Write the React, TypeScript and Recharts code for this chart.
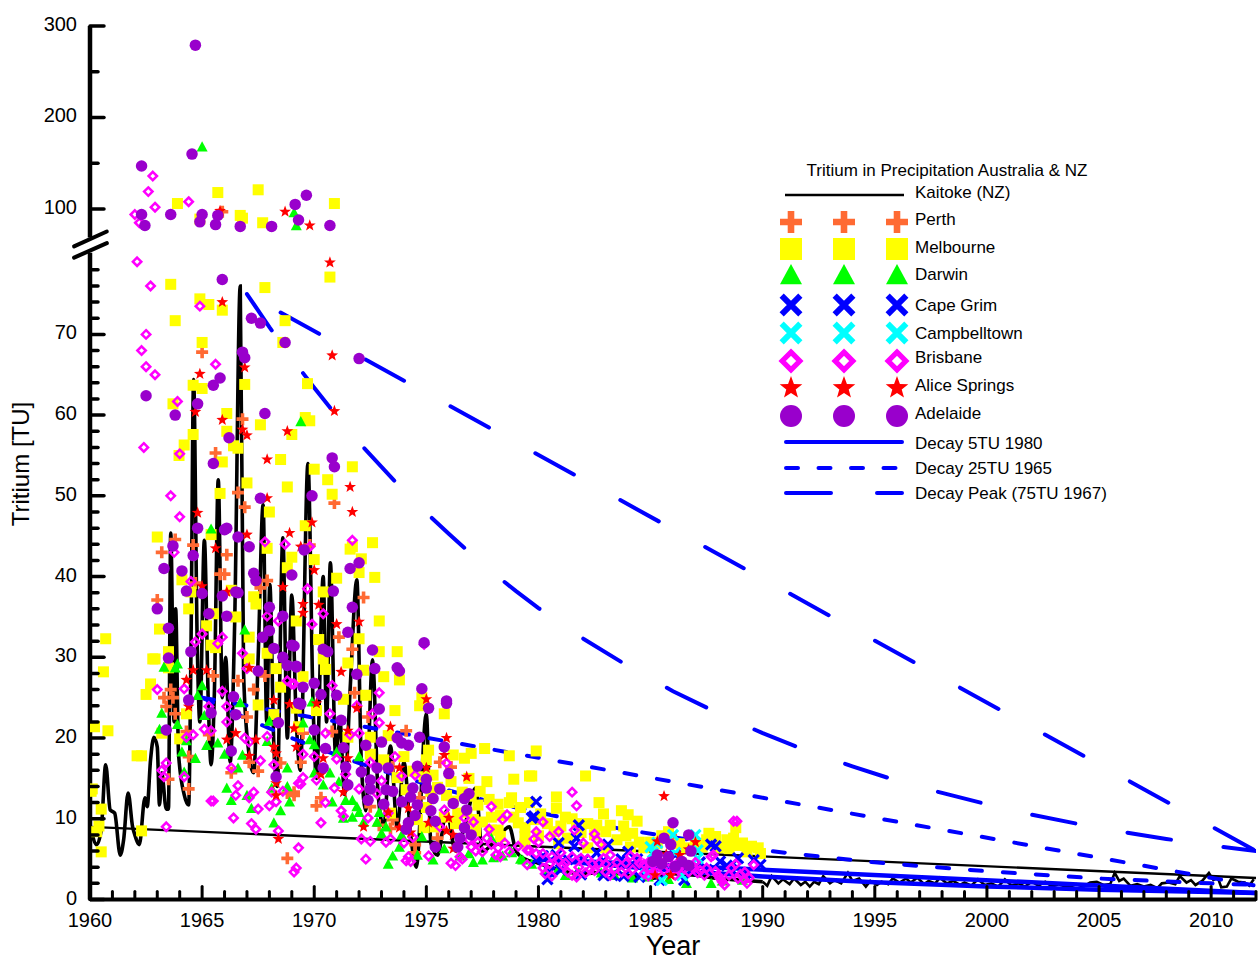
import React from "react";
import { ComposedChart, Line, Scatter, XAxis, YAxis, ReferenceLine, Legend, Label } from "recharts";

const FONT = "'Liberation Sans', Arial, sans-serif";

type Pt = [number, number];

// [year, TU]
const kaitokeEarly: Pt[] = [
  [1960.05, 8.6], [1960.3, 6.8], [1960.5, 8.6], [1960.7, 16.7], [1960.9, 11.1], [1961.1, 10.7], [1961.35, 5.5], [1961.5, 7.4], [1961.7, 13.2],
  [1961.9, 9], [1962, 8], [1962.2, 6.8], [1962.45, 12.6], [1962.55, 11.5], [1962.7, 17.3], [1962.85, 20.1], [1963, 18.9], [1963.1, 11.7],
  [1963.2, 15.7], [1963.4, 11.2], [1963.5, 11.2], [1963.6, 45.4], [1963.75, 22], [1963.82, 36], [1963.95, 18], [1964.2, 13], [1964.4, 11.7],
  [1964.5, 30], [1964.62, 64.4], [1964.78, 32], [1964.9, 22], [1965.1, 44.5], [1965.28, 24], [1965.4, 16.7], [1965.55, 26], [1965.72, 52],
  [1965.9, 25], [1966.05, 30], [1966.25, 17], [1966.45, 34], [1966.7, 76], [1966.85, 28], [1967.05, 19], [1967.3, 15.7], [1967.5, 30],
  [1967.72, 48.9], [1967.88, 22], [1968.02, 39], [1968.2, 19], [1968.35, 14], [1968.6, 44.8], [1968.8, 20], [1969, 37.7], [1969.2, 22],
  [1969.38, 16], [1969.72, 54], [1969.95, 24], [1970.1, 15], [1970.4, 40], [1970.55, 22], [1970.72, 41.7], [1970.95, 18], [1971.15, 22],
  [1971.35, 13], [1971.6, 26], [1971.9, 39.6], [1972.1, 17], [1972.3, 11], [1972.6, 29.7], [1972.85, 13], [1973.1, 9], [1973.4, 19],
  [1973.7, 9], [1974, 17], [1974.3, 8], [1974.55, 4], [1975, 23], [1975.2, 7], [1975.5, 5.5], [1975.9, 11], [1976.3, 6], [1976.7, 9],
  [1977.2, 13.8], [1977.5, 6], [1978, 7], [1978.7, 9], [1979, 6], [1979.4, 5], [1980, 4.5], [1981, 3.6], [1982, 3.2], [1983, 3.4],
  [1984, 3], [1985, 2.6], [1986, 3.2], [1987, 3], [1988, 2.6], [1989, 2.4], [1990, 2.2],
];
const kaitokeLate: Pt[] = [
  [1990, 2.2], [1990.2, 1.7], [1990.4, 2.9], [1990.7, 2], [1990.9, 2.5], [1991.2, 1.9], [1991.4, 2.6], [1991.7, 1.8], [1991.9, 2.2], [1992.1, 1.6],
  [1992.3, 2.2], [1992.5, 1.9], [1992.7, 2.9], [1993, 2], [1993.2, 2.4], [1993.5, 2], [1993.8, 3.3], [1994, 2.3], [1994.3, 2.6], [1994.6, 1.6], [1994.8, 2.3],
  [1995.1, 1.8], [1995.3, 2.2], [1995.6, 1.9], [1995.8, 2.6], [1996.1, 2.1], [1996.4, 2.6], [1996.6, 2.1], [1996.9, 2.7], [1997.2, 1.9], [1997.4, 2.3],
  [1997.7, 2], [1997.9, 2.7], [1998.2, 2], [1998.5, 2.3], [1998.8, 1.8], [1999, 2.1], [1999.3, 1.7], [1999.6, 2.5], [1999.9, 1.8], [2000.2, 2],
  [2000.5, 1.6], [2000.8, 2.5], [2001.1, 1.7], [2001.4, 2], [2001.7, 1.6], [2002, 2.2], [2002.3, 1.7], [2002.6, 2.2], [2002.9, 1.6], [2003.2, 1.9],
  [2003.6, 1.5], [2004, 1.9], [2004.3, 1.6], [2004.6, 2.1], [2004.9, 2.2], [2005.2, 1.8], [2005.5, 1.9], [2005.7, 3.3], [2005.9, 2.3], [2006.1, 2.6],
  [2006.4, 1.7], [2006.7, 1.9], [2007, 1.6], [2007.3, 1.8], [2007.6, 1.4], [2007.8, 2], [2008.1, 2.1], [2008.4, 1.9], [2008.6, 2.9], [2008.9, 2.1],
  [2009.1, 2.4], [2009.3, 1.8], [2009.6, 2.3], [2009.9, 3.3], [2010.1, 2.4], [2010.3, 2.7], [2010.45, 1.5], [2010.7, 1.6], [2010.9, 2.6], [2011.2, 2.2],
  [2011.5, 2.1], [2011.7, 1.7], [2011.9, 2.5],
];
const kaitokeTrend: Pt[] = [[1960, 9], [2012, 2.66]];

const perth: Pt[] = [
  [1965.9, 97], [1965, 67.8], [1965.6, 55.3], [1963.8, 44.6], [1963.2, 43], [1964.6, 43.9], [1966.1, 42.7], [1965.8, 40.3], [1966, 40.3],
  [1966.6, 50.4], [1963, 37.1], [1964.7, 39.2], [1966.8, 59.5], [1966.9, 48.6], [1970.9, 49.1], [1967.9, 39.5], [1967.6, 38.6], [1969.8, 43.9],
  [1972.2, 37.4], [1963.6, 26], [1963.3, 25], [1963.7, 25], [1963.4, 23.9], [1963.8, 23], [1964.3, 20.8], [1964.4, 17.7], [1963.5, 14.9],
  [1964.4, 13.7], [1965.5, 27.7], [1966.6, 27.1], [1967.3, 26], [1967.8, 27.7], [1967, 22.6], [1965.3, 20.4], [1966.3, 15.7], [1967.5, 15.9],
  [1967.1, 17], [1968.5, 16.9], [1968.8, 13.2], [1969.1, 13.3], [1968.8, 5.1], [1971.1, 32.5], [1971.7, 31], [1971.8, 25.6], [1972.4, 22.6],
  [1970.8, 20.8], [1974.1, 20.9], [1969.5, 20.6], [1975.6, 17], [1976.1, 16.4], [1970.3, 12.6], [1970.1, 11.6], [1972.5, 11.5], [1973.5, 9.9],
  [1974.7, 12.6], [1975.5, 7.6], [1974.5, 6.8], [1974.5, 5.8], [1969.1, 12.9], [1969.4, 17], [1973.5, 16.4], [1986.1, 7.4], [1972.9, 9.2], [1973.4, 8.8],
];

const melbourne: Pt[] = [
  [1963.9, 106], [1965.7, 118], [1967.5, 121], [1966.7, 93], [1966.8, 90], [1967.7, 85], [1970.9, 106], [1964.9, 89], [1963.6, 76.2], [1964.9, 74.4],
  [1965.3, 73.7], [1965.9, 73], [1967.8, 75.8], [1970.7, 77.1], [1963.8, 71.7], [1965, 69], [1964.6, 63.7], [1965, 63.3], [1963.7, 61.4], [1966.1, 60.2],
  [1966.1, 58], [1964.6, 57.6], [1964.2, 56.3], [1966.4, 56.2], [1963.97, 55], [1965.9, 54.2], [1965.8, 50.3], [1963, 44.9], [1965.4, 45.2], [1964.1, 39.6],
  [1964.5, 38.1], [1966.3, 38.3], [1968.7, 71.7], [1968.6, 69], [1969.7, 63.9], [1969.6, 59.7], [1969.8, 59.3], [1969, 57.6], [1967.6, 58.8], [1966.9, 63.8],
  [1966.6, 55.9], [1967, 51.6], [1968.5, 54.5], [1970, 53.3], [1971.7, 53.6], [1970.6, 52], [1968.8, 51.1], [1970.8, 50.2], [1968, 48], [1967.9, 43.5],
  [1969.6, 46.3], [1971.7, 43.7], [1971.6, 43.4], [1972.6, 44.2], [1972.1, 42.2], [1970, 42.1], [1969, 42.4], [1968.8, 41.1], [1972, 40.5], [1972.7, 39.9],
  [1971, 39.8], [1970.4, 38.1], [1967.3, 37.5], [1960.7, 32.3], [1960.6, 28.2], [1960.2, 21.4], [1960.8, 20.9], [1962.9, 29.8], [1962.8, 29.8], [1962.7, 26.7],
  [1962.5, 25.4], [1962.1, 17.8], [1962.3, 17.8], [1960.1, 13.7], [1960.05, 13.4], [1960.5, 11.2], [1960.4, 9.1], [1960.3, 8.4], [1960.5, 5.9], [1962.3, 8.5], [1963.1, 33.5], [1963.5, 30.7],
  [1963.5, 28.7], [1963.2, 20.6], [1964.3, 23], [1964, 19.9], [1964.4, 36], [1965.2, 33.9], [1965.4, 31.5], [1965.6, 31.2], [1965.5, 35.4], [1966.5, 35],
  [1967.4, 36.6], [1967.1, 32.5], [1967.1, 29.8], [1967.9, 30.5], [1968.3, 28.6], [1968.5, 26.3], [1969.2, 34.5], [1967.5, 24.1], [1968.2, 22.9], [1969.2, 23.7],
  [1969.3, 21.4], [1972.9, 34.5], [1973.7, 30.7], [1972.9, 30.7], [1971.5, 29.3], [1972.2, 28.4], [1973.1, 27.6], [1973.8, 27.2], [1972, 32.3], [1970.2, 32.2],
  [1970.4, 29.8], [1970.5, 28.5], [1969.5, 27.6], [1971.3, 24.8], [1972.3, 25.3], [1970.1, 23.4], [1973.6, 23.4], [1974.8, 25], [1974.7, 24], [1975.8, 23],
  [1972.5, 20.1], [1971.5, 20.1], [1973.3, 20.3], [1972.5, 18], [1973.1, 17.3], [1975.1, 18.5], [1975, 17.3], [1976.2, 17.9], [1976.7, 17.5], [1977, 18.1],
  [1977.6, 18.7], [1978.7, 17.8], [1976.9, 15], [1977.7, 14.6], [1978.9, 14.9], [1979.6, 15.3], [1975.3, 15.4], [1974, 17.7], [1973.7, 15.1], [1974.1, 13.6],
  [1975.5, 13.9], [1976.1, 14.6], [1977.3, 11.7], [1977.1, 9.9], [1978.8, 12.6], [1978.7, 12], [1977.9, 10.2], [1977.5, 9.6], [1978.2, 8.6], [1979.4, 7.8],
  [1976.4, 10.7], [1974.6, 9.9], [1973.4, 10.7], [1975.4, 9], [1978.3, 7.8], [1977.9, 8.6], [1979.9, 18.4], [1979.7, 15.3], [1982.1, 15.3], [1980.8, 12.7],
  [1980.8, 11.3], [1982.7, 12], [1982.9, 10.6], [1983.7, 11], [1984, 10.5], [1984.4, 9.7], [1983.8, 9.1], [1979.6, 12], [1979.4, 8.9], [1981.5, 10],
  [1982.6, 9.2], [1983.5, 7.4], [1982.5, 8], [1984.5, 7.1], [1981.3, 7.6], [1987.6, 8.2], [1987.9, 7.8], [1988.8, 8.9], [1988.7, 7.6], [1989.1, 7],
  [1989.8, 6.4], [1988.3, 6.5], [1985.8, 8.4], [1984.1, 6.5], [1987.3, 6.5], [1988.4, 7.4],
];
// the packed yellow band, 1974 to 1990
const melbourneBand: Pt[] = [
  [1974.4, 15.9], [1974.9, 15.2], [1975.2, 13.4], [1975.9, 12.9], [1976.2, 12.2], [1976.6, 13.3], [1977, 12.8], [1977.4, 13.4], [1977.8, 12.4], [1978.2, 11.8],
  [1978.3, 10.4], [1978.9, 10.2], [1979.2, 11.4], [1979.1, 9.5], [1976.8, 10.8], [1976.3, 9.4], [1975.8, 10.2], [1975, 11.4], [1974.9, 8.9], [1977.2, 8.5],
  [1979.8, 9.9], [1980.1, 10.6], [1980.4, 9.4], [1980.7, 8.4], [1981, 9.1], [1981.2, 10.2], [1981.7, 9.4], [1981.9, 8.3], [1982.2, 9.4], [1983, 8.4], [1983.2, 9.2],
  [1983.9, 7.9], [1984.2, 8.2], [1984.7, 6.4], [1985, 7.1], [1985.3, 6.9], [1985.5, 7.9], [1986.3, 6.9], [1986.6, 6.4], [1987, 6.9], [1987.8, 6.9], [1988, 6.4],
  [1988.5, 6.3], [1988.9, 6.7], [1989.3, 5.9], [1989.5, 6.6], [1989.9, 5.7], [1987.5, 7.4], [1979.4, 6.9], [1980, 7.9], [1980.9, 6.9], [1982.2, 6.4], [1983, 6.4],
];

const darwin: Pt[] = [
  [1965, 168], [1969.1, 96], [1969.2, 82], [1965.4, 45.9], [1969.4, 59.2], [1966.9, 33.4], [1963.3, 28.8], [1963.9, 29.2], [1963.8, 28.7], [1965, 26.5],
  [1964.8, 25.3], [1963.2, 23.1], [1963.9, 21.7], [1965.1, 22.8], [1966.7, 24.4], [1963.1, 21.1], [1964.3, 19.7], [1964.1, 18.3], [1964.7, 17.5], [1965.2, 19.1],
  [1965.7, 19.4], [1966, 18], [1966.8, 17.9], [1966.6, 16.3], [1967.9, 19.6], [1968, 22.1], [1968.8, 16.3], [1964.2, 15.8], [1966.1, 13.8], [1966.3, 12.3],
  [1967, 12.9], [1967.2, 11.3], [1968.1, 13.8], [1968.8, 14], [1968.9, 12.1], [1968.5, 11], [1968.2, 9.5], [1969.5, 21.9], [1969.9, 24.5], [1969.8, 19.8],
  [1970, 19.2], [1972, 17.7], [1971, 18.3], [1970, 15.7], [1970.7, 15.7], [1970.4, 14.2], [1971.1, 14.6], [1970.8, 12.1], [1971.4, 12.3], [1971.7, 12.3],
  [1971.9, 11.5], [1972, 10.8], [1971.7, 10.2], [1971.3, 10.1], [1972.2, 9.6], [1972.9, 10.8], [1972.8, 9.6], [1973.2, 9], [1973, 8.2], [1973.9, 8],
  [1974.8, 7.8], [1973.5, 5.4], [1973.3, 4.4], [1973.8, 6.5], [1974.6, 5.5], [1975.3, 4.9], [1975.8, 6.3], [1977.1, 4.6], [1977.9, 7.6], [1978.8, 5.9],
  [1978.4, 5.4], [1979.3, 4.9], [1977.5, 4.9], [1979.2, 5], [1980.9, 3.9], [1981.8, 3.4], [1982.8, 3.3], [1984.9, 2.8], [1986.6, 2], [1987.7, 2], [1978.8, 5.8],
  [1976.5, 5.4], [1976.9, 5.7], [1978, 5.2], [1979.7, 4.4], [1980.4, 3.4], [1981.2, 3], [1983.4, 3], [1984.2, 2.7], [1985.8, 2.5], [1988.2, 2.3], [1989.1, 2.4],
];

const capeGrim: Pt[] = [
  [1979.9, 12.1], [1979.7, 10.1], [1979.8, 10.3], [1980.9, 7], [1980.4, 2.5], [1981.8, 9.2], [1981.7, 7.6], [1981.6, 6.6], [1979.9, 4.9], [1983.1, 6.8], [1984, 5.9],
  [1987.7, 6.8], [1987.9, 6.6], [1988.9, 5.1], [1989.6, 4.9], [1989.9, 4.3], [1988.1, 4.7], [1982.9, 3], [1983.3, 3], [1984.5, 2.8], [1986.5, 2.4],
  [1985.4, 2.4], [1980.8, 5.5], [1982.6, 5.8], [1986.1, 5.5], [1988.6, 3.7], [1987.5, 3.7], [1981, 3.7], [1980.2, 5.4], [1981.3, 5], [1982, 4.9], [1982.9, 4.8], [1983.7, 5],
  [1984.4, 5], [1985.2, 4.4], [1986.8, 3.6], [1987.2, 4.6], [1988.4, 4.2], [1989.2, 3.2], [1983.8, 2.9], [1981.9, 3.1], [1980.5, 3.4],
];

const campbelltown: Pt[] = [
  [1985, 6.5], [1986, 8], [1987, 8], [1987.1, 5.1], [1985.5, 2.4], [1986.1, 5.8], [1985.1, 5.8], [1987.1, 6.1], [1985.3, 7], [1984.8, 3.1], [1986.4, 3],
];

const brisbane: Pt[] = [
  [1962.8, 136], [1962.6, 119], [1962.9, 102], [1964.4, 108], [1962, 94], [1962.2, 85], [1962.1, 79], [1962.7, 76], [1964.9, 73.5], [1962.5, 70],
  [1962.3, 68], [1962.5, 66], [1962.9, 65], [1965.6, 66.3], [1963.9, 61.7], [1962.4, 56], [1964, 55.2], [1963.6, 50], [1964, 47.4], [1963.75, 43],
  [1964.5, 39.4], [1967.8, 44.3], [1968.7, 44], [1971.7, 44.5], [1969.8, 43.7], [1969.7, 38.5], [1965, 32.9], [1964.7, 31.9], [1965.9, 32.5], [1965.7, 31.7],
  [1966.8, 30.5], [1967, 28.6], [1967.9, 35.1], [1968.4, 34.5], [1968.8, 27.1], [1969, 26.7], [1963, 26], [1964.2, 26.1], [1965.9, 25.8], [1966.1, 23.9],
  [1966.1, 22], [1965.3, 23.9], [1964.6, 20.4], [1964.3, 20.1], [1965.1, 21.1], [1965.4, 20.9], [1963.4, 16.9], [1963.2, 16], [1963.3, 15.2], [1964.2, 15.2],
  [1966.9, 20], [1967.1, 19.5], [1967.9, 20.2], [1968.2, 16.7], [1967.6, 17.2], [1966.3, 16.3], [1966.6, 14.1], [1966.5, 12.9], [1967.3, 13.3], [1967.1, 12.6],
  [1968.1, 13.3], [1968.6, 13.4], [1968.3, 12.1], [1967.5, 11.2], [1968, 11.6], [1965.4, 12.2], [1965.5, 12.2], [1966.4, 10.1], [1963.4, 9], [1967.2, 9.4],
  [1967.4, 8.7], [1968.4, 8.5], [1969.3, 6.4], [1969.2, 3.9], [1969.1, 3.4], [1969.3, 14.4], [1970.4, 35.4], [1969.9, 34.1], [1969.1, 26.7], [1970.8, 26.5],
  [1972.9, 25.6], [1970.7, 23], [1972.6, 23], [1971.9, 24], [1972.9, 21.9], [1972, 20.6], [1970.5, 20.6], [1971.6, 20.4], [1969.5, 18], [1970, 17.7],
  [1971, 17.4], [1972.5, 17], [1973.6, 17.7], [1975.9, 16.9], [1974.5, 15.4], [1973.9, 15.3], [1973, 14.7], [1971.4, 15.5], [1969.5, 15.1], [1970.1, 14.8],
  [1969.4, 14.3], [1970.9, 13.8], [1972, 13.7], [1972.8, 13.1], [1977.9, 11.5], [1978.6, 10.5], [1978.4, 9.9], [1970.5, 12], [1971.2, 11], [1971.3, 10.3],
  [1970.3, 9.5], [1972.4, 10.1], [1973.3, 10.7], [1972.1, 7.5], [1972.5, 7.2], [1973.2, 7.1], [1973.4, 7.5], [1974, 7], [1974.4, 7.7], [1975.8, 11.1],
  [1975.6, 9], [1977.1, 9.6], [1977.8, 8.7], [1976.7, 10.1], [1972.3, 5], [1974.2, 5.3], [1974.1, 4.8], [1974.3, 4.7], [1975.1, 5.4], [1976.5, 5.3],
  [1976.1, 4.5], [1976.3, 4.2], [1977, 6.5], [1977.3, 7.1], [1977.5, 5.9], [1977.9, 6.8], [1978.5, 7], [1978.1, 5.5], [1978.3, 5.3], [1979.5, 4.3],
  [1979.5, 6.1], [1974.9, 31.6], [1981.5, 13.3], [1981.7, 11.6], [1980.2, 9.6], [1988.7, 9.7], [1988.85, 9.7], [1979.9, 8.4], [1979.8, 7.5], [1980, 7.1], [1980.5, 7.8],
  [1980.9, 8.4], [1981.6, 8.6], [1982, 7], [1982.5, 8.1], [1982.6, 7.4], [1982.8, 6.8], [1981, 5.8], [1979.6, 6.1], [1980.2, 3.9], [1981.3, 3.4],
  [1982.3, 3.7], [1983.2, 5.5], [1984.2, 3.7], [1985.1, 4.3], [1987.7, 5.3], [1987.8, 5.5], [1988.3, 1.8], [1989.3, 2], [1989.6, 4.3], [1987.1, 3.3],
  [1988.6, 3.9], [1986.2, 4.5], [1985.1, 3.3], [1982.9, 5.1], [1984.4, 5.1], [1980.5, 4.4], [1981.1, 4.2], [1981.8, 4], [1982.5, 3.6], [1983.4, 3.8],
  [1983.9, 4.5], [1984.7, 3.2], [1985.6, 3.6], [1986.7, 3.4], [1987.4, 3], [1988, 3], [1988.9, 2.6], [1989.2, 3.4], [1984.9, 4.6], [1983, 4.4],
];
// packed magenta band, 1976 to 1990
const brisbaneBand: Pt[] = [
  [1976.6, 5], [1976.9, 7.4], [1977.2, 6], [1977.7, 7.6], [1978.2, 6.4], [1978.7, 5.9], [1979.1, 6.6], [1980.2, 5.7], [1980.6, 5.3], [1980.9, 4.8], [1981.2, 4.5],
  [1981.5, 5.3], [1981.9, 5.1], [1982.2, 5], [1982.4, 4.4], [1982.7, 4.5], [1983, 3.4], [1983.2, 3], [1983.5, 4.6], [1983.7, 3.4], [1984, 3.2], [1984.1, 5.4],
  [1984.5, 4.5], [1984.7, 4.4], [1985, 3.8], [1985.3, 3.3], [1985.5, 4.5], [1985.8, 4.7], [1986, 3.6], [1986.3, 3.9], [1986.5, 3.8], [1986.9, 4.1], [1987.2, 3.6],
  [1987.5, 3.9], [1987.9, 3.5], [1988.1, 2.6], [1988.2, 2.2], [1988.5, 3], [1988.8, 4.4], [1989, 3.1], [1989.2, 2.4], [1989.4, 2.7], [1980.3, 3.2], [1980.6, 2.9],
  [1981.5, 3], [1981.7, 2.8], [1982.1, 3.3], [1984.9, 2.9], [1986.1, 3], [1987, 4.6], [1979.9, 5.7],
];

const aliceSprings: Pt[] = [
  [1965.8, 98], [1968.7, 97], [1969.8, 82], [1970.7, 78.9], [1965.9, 74], [1970.8, 67.4], [1970.9, 60.5], [1966.9, 65.9], [1966.8, 58.2], [1967, 57.5],
  [1968.8, 58], [1967.9, 54.5], [1967.9, 49.7], [1971.6, 51.1], [1971.7, 48], [1969.9, 46.7], [1967, 45.2], [1968.9, 45.4], [1969.4, 43.7], [1970, 40.8],
  [1968.6, 38.7], [1964.9, 65.1], [1965.9, 59.4], [1964.7, 60.4], [1964.8, 47.9], [1965.6, 43.5], [1965, 38.8], [1966.1, 38.1], [1964.6, 28.4], [1965.2, 28.4],
  [1964.3, 27.2], [1968.2, 24.7], [1968.9, 24.2], [1966.1, 19.8], [1966.5, 20.6], [1967.4, 19.8], [1967.1, 17.8], [1968.2, 18.9], [1968.3, 18.1], [1968.3, 14.4],
  [1968.3, 12.9], [1968.4, 7.5], [1969.1, 21.2], [1969.2, 18.9], [1967.1, 28.7], [1964.4, 23.9], [1969.5, 36.6], [1970.2, 36.5], [1969.5, 35.5], [1971, 34.1],
  [1972, 34.4], [1971.2, 28.2], [1970.1, 24.3], [1971.9, 23.7], [1975, 24.8], [1973.4, 21.4], [1971.5, 20.9], [1975.9, 20], [1975.8, 17.9], [1975, 16.3],
  [1973.8, 16.3], [1976.8, 15.2], [1971.5, 17.5], [1970.4, 17.5], [1970.3, 15.5], [1971.3, 13.3], [1974.2, 11.3], [1976, 10.1], [1975.1, 9.5], [1972.2, 9],
  [1973.3, 10.8], [1975.9, 8.5], [1976.2, 8], [1974.3, 8.3], [1976.2, 6.3], [1973.8, 8.9], [1985.6, 12.8], [1985.3, 7.2], [1987, 7.1], [1986.3, 5.5],
  [1985.2, 3], [1985.9, 3], [1986.7, 6.2], [1985.7, 5.6],
];

const adelaide: Pt[] = [
  [1964.7, 279], [1964.55, 160], [1962.3, 147], [1962.3, 94], [1962.45, 82], [1963.6, 94], [1964.9, 86], [1965, 94], [1965.6, 83], [1965.7, 93],
  [1966.7, 81], [1968.1, 81], [1969.15, 105], [1969.3, 88], [1969.65, 115], [1970.7, 82], [1965.9, 76.8], [1967.2, 72], [1967.6, 71.4], [1968.7, 69],
  [1972, 67], [1962.5, 62.4], [1963.8, 60], [1964.8, 61.4], [1965.5, 63.7], [1965.8, 64.6], [1966.2, 57.2], [1966.8, 67.8], [1966.9, 67.1], [1967.8, 60.2],
  [1965.5, 54], [1966, 45.8], [1964.8, 46], [1967.6, 49.7], [1966.6, 44.9], [1967.1, 43.7], [1967.3, 40.4], [1967.4, 39.5], [1966.6, 38], [1969.9, 50],
  [1970.8, 54.7], [1970.9, 53.6], [1969.55, 43.3], [1969, 40.2], [1971.6, 41], [1972, 41.7], [1970.85, 38.2], [1963.7, 43.8], [1963.3, 41], [1964.1, 40.7],
  [1964.3, 38.2], [1964.6, 42.6], [1965, 37.9], [1966.1, 46], [1965.9, 37.6], [1966.5, 38.1], [1963, 36], [1963.5, 33.6], [1964.5, 30.7], [1963.5, 29.9],
  [1965.3, 35.4], [1966.1, 35.1], [1968, 36.2], [1968.6, 35.1], [1967.7, 32.5], [1968, 33.3], [1968.2, 31.1], [1968.6, 30], [1969, 31.5], [1968.8, 29],
  [1969.2, 28.8], [1967.5, 28.3], [1964.4, 24.7], [1965.4, 23.1], [1966.4, 25.1], [1966.5, 22.9], [1968.4, 21.9], [1966.3, 18.4], [1963.4, 21], [1968.3, 15.2],
  [1969.3, 24.3], [1971.7, 36.2], [1971.5, 33.1], [1972.6, 30.9], [1970.4, 31], [1970.6, 30.7], [1969.1, 31.4], [1969.2, 28.9], [1971.9, 27.9], [1972.7, 28.6],
  [1973.7, 28.7], [1973.8, 28.3], [1974.9, 31.8], [1974.8, 26.1], [1975.1, 23.7], [1975.9, 24.6], [1975.9, 24.3], [1970, 26.8], [1969.5, 26.3], [1970.3, 25.4],
  [1971, 25.3], [1969.4, 24.2], [1972.9, 23.6], [1971.2, 22.2], [1970, 21], [1974.7, 20.1], [1973.7, 20], [1973, 19.5], [1973.9, 19.4], [1974.2, 19.1],
  [1975.8, 18.9], [1972.3, 19.1], [1971.3, 18.8], [1970.5, 18.7], [1971.4, 16.4], [1970.4, 16.3], [1972.1, 15.8], [1972.8, 16.3], [1973.3, 16.3], [1974.6, 16.5],
  [1976, 15.6], [1972.5, 14.8], [1975, 14.9], [1971.5, 14.2], [1972.5, 13.7], [1975, 13.8], [1973.2, 13.6], [1973.5, 13.4], [1974.4, 13.8], [1975.6, 13.7],
  [1976.9, 13.1], [1972.4, 12.3], [1973.9, 12.1], [1973.1, 11.8], [1974.6, 11.7], [1975.3, 12.5], [1974.3, 12.7], [1976.2, 11.9], [1976.7, 12.5], [1976.8, 11.1],
  [1975.2, 11], [1974.5, 10.4], [1975.4, 9.7], [1974.2, 9.5], [1974.1, 8.7], [1976.7, 8.9], [1977, 8], [1976.5, 7.6], [1976.4, 6.5], [1975.4, 6.5],
  [1986, 9.5], [1985.6, 7.6], [1986.7, 8], [1985.9, 6.8], [1986.8, 6], [1985.3, 5.5], [1985.8, 5.3], [1986.4, 4.7], [1985.1, 4.7], [1985.5, 4.4], [1986.1, 4.1], [1986.7, 4.2],
];

const decay5Curve: Pt[] = [[1980, 5], [1985, 3.8], [1990, 2.85], [1995, 2.15], [2000, 1.62], [2005, 1.22], [2010, 0.92], [2012, 0.82]];
const decay5Straight: Pt[] = [[1980, 5], [2012, 0.82]];
const decay25Curve: Pt[] = [
  [1965, 25], [1967, 22.4], [1969, 20], [1970, 18.9], [1972, 16.9], [1974, 15.1], [1976, 13.5], [1978, 12], [1980, 10.8], [1982, 9.6], [1984, 8.6],
  [1986, 7.7], [1988, 6.9], [1990, 6.1], [1995, 4.6], [2000, 3.5], [2005, 2.6], [2010, 2], [2012, 1.8],
];
const decay25Straight: Pt[] = [[1965, 25], [2012, 1.7]];
const decayPeakCurve: Pt[] = [
  [1967, 75], [1968, 70.9], [1969, 67], [1970, 63.4], [1971, 59.9], [1972, 56.6], [1973, 53.6], [1974, 50.6], [1975, 47.9], [1976, 45.3], [1977, 42.8],
  [1978, 40.4], [1979, 38.2], [1980, 36.1], [1982, 32.3], [1984, 28.9], [1986, 25.8], [1988, 23.1], [1990, 20.6], [1992, 18.4], [1994, 16.5], [1996, 14.7],
  [1998, 13.2], [2000, 11.8], [2002, 10.5], [2004, 9.4], [2006, 8.4], [2008, 7.5], [2010, 6.7], [2012, 6],
];
const decayPeakStraight: Pt[] = [[1968.5, 72.7], [2012, 6]];

const xTicks: number[] = [];
for (let y = 1960; y <= 2012; y++) xTicks.push(y);
const lowerTicks = [0, 2, 4, 6, 8, 10, 12, 14, 16, 18, 20, 22, 24, 26, 28, 30, 32, 34, 36, 38, 40, 42, 44, 46, 48, 50, 52, 54, 56, 58, 60, 62, 64, 66, 68, 70, 72, 74, 76, 78];
const upperTicks = [100, 150, 200, 250, 300];

// broken axis: upper part is squeezed to 0.1134 of the lower scale
const toAxis = (v: number) => (v <= 80 ? v : 85.53 + (v - 100) * 0.1134);
const fromAxis = (d: number) => (d <= 80 ? d : Math.round(100 + (d - 85.53) / 0.1134));
const rows = (pts: Pt[]) => pts.map(([x, v]) => ({ x, y: toAxis(v) }));

type Kind = "plus" | "square" | "triangle" | "cross" | "diamond" | "star" | "circle";

function Marker({ kind, cx, cy, s, color }: { kind: Kind; cx: number; cy: number; s: number; color: string }) {
  const h = s / 2;
  if (kind === "square") return <rect x={cx - h} y={cy - h} width={s} height={s} fill={color} />;
  if (kind === "circle") return <circle cx={cx} cy={cy} r={h} fill={color} />;
  if (kind === "triangle")
    return <path d={`M${cx} ${cy - h}L${cx + h} ${cy + h * 0.85}L${cx - h} ${cy + h * 0.85}Z`} fill={color} />;
  if (kind === "plus") {
    return <path d={`M${cx - h} ${cy}H${cx + h}M${cx} ${cy - h}V${cy + h}`} stroke={color} strokeWidth={s * 0.3} fill="none" />;
  }
  if (kind === "cross") {
    const d = h * 0.85;
    return <path d={`M${cx - d} ${cy - d}L${cx + d} ${cy + d}M${cx + d} ${cy - d}L${cx - d} ${cy + d}`} stroke={color} strokeWidth={s * 0.27} fill="none" />;
  }
  if (kind === "diamond") {
    const d = h - s * 0.1;
    return <path d={`M${cx} ${cy - d}L${cx + d} ${cy}L${cx} ${cy + d}L${cx - d} ${cy}Z`} stroke={color} strokeWidth={s * 0.24} fill="none" />;
  }
  const pts: string[] = [];
  for (let i = 0; i < 10; i++) {
    const r = i % 2 === 0 ? h * 1.08 : h * 0.45;
    const a = (Math.PI / 5) * i - Math.PI / 2;
    pts.push(`${cx + r * Math.cos(a)},${cy + r * Math.sin(a)}`);
  }
  return <polygon points={pts.join(" ")} fill={color} />;
}

const markerShape = (kind: Kind, color: string, s: number) => (p: any) => <Marker kind={kind} cx={p.cx} cy={p.cy} s={s} color={color} />;

function XTick({ x, y, payload }: any) {
  const major = payload.value % 5 === 0;
  return (
    <g>
      <line x1={x} x2={x} y1={y} y2={y - (major ? 13 : 8)} stroke="#000" strokeWidth={3} strokeLinecap="round" />
      {major && payload.value < 2012 && (
        <text x={x} y={y + 27} textAnchor="middle" fontSize={20} fontFamily={FONT} fill="#000">
          {payload.value}
        </text>
      )}
    </g>
  );
}

function YTick({ x, y, payload }: any) {
  const tu = fromAxis(payload.value);
  const major = tu <= 70 ? tu % 10 === 0 : tu % 100 === 0;
  return (
    <g>
      <line x1={x} x2={x + (major ? 14 : 8)} y1={y} y2={y} stroke="#000" strokeWidth={3.5} strokeLinecap="round" />
      {major && (
        <text x={x - 13} y={y + 5} textAnchor="end" fontSize={20} fontFamily={FONT} fill="#000">
          {tu}
        </text>
      )}
    </g>
  );
}

const legendSymbols: { label: string; kind: Kind; color: string; text: number; sym: number }[] = [
  { label: "Perth", kind: "plus", color: "#ff6a33", text: 219, sym: 222 },
  { label: "Melbourne", kind: "square", color: "#ffff00", text: 247, sym: 249 },
  { label: "Darwin", kind: "triangle", color: "#00ff00", text: 274, sym: 275 },
  { label: "Cape Grim", kind: "cross", color: "#0000ff", text: 305, sym: 305 },
  { label: "Campbelltown", kind: "cross", color: "#00ffff", text: 333, sym: 333 },
  { label: "Brisbane", kind: "diamond", color: "#ff00ff", text: 357, sym: 361 },
  { label: "Alice Springs", kind: "star", color: "#ff0000", text: 385, sym: 388 },
  { label: "Adelaide", kind: "circle", color: "#9900cc", text: 413, sym: 416 },
];
const legendLines = [
  { label: "Decay 5TU 1980", y: 442, text: 443, dash: undefined },
  { label: "Decay 25TU 1965", y: 468, text: 468, dash: "12 20.5" },
  { label: "Decay Peak (75TU 1967)", y: 493, text: 493, dash: "45 46" },
];

function ChartLegend() {
  const t = (label: string, x: number, y: number, anchor = "start") => (
    <text key={label} x={x} y={y + 6} fontSize={17} fontFamily={FONT} fill="#000" textAnchor={anchor as any}>
      {label}
    </text>
  );
  return (
    <svg width={340} height={350} viewBox="775 160 340 350" style={{ display: "block" }}>
      {t("Tritium in Precipitation Australia & NZ", 947, 170, "middle")}
      <line x1={785} x2={904} y1={195} y2={195} stroke="#000" strokeWidth={2.5} />
      {t("Kaitoke (NZ)", 915, 192)}
      {legendSymbols.map((l) => (
        <g key={l.label}>
          {[791, 844, 897].map((cx) => (
            <Marker key={cx} kind={l.kind} cx={cx} cy={l.sym} s={22} color={l.color} />
          ))}
          {t(l.label, 915, l.text)}
        </g>
      ))}
      {legendLines.map((l) => (
        <g key={l.label}>
          <line x1={786} x2={902} y1={l.y} y2={l.y} stroke="#0000ff" strokeWidth={4} strokeLinecap="round" strokeDasharray={l.dash} />
          {t(l.label, 915, l.text)}
        </g>
      ))}
    </svg>
  );
}

const axisSeg = (a: number, b: number) => [{ x: 1960, y: a }, { x: 1960, y: b }];

const YearLabel = () => (
  <text x={673} y={955} textAnchor="middle" fontSize={27} fontFamily={FONT} fill="#000">
    Year
  </text>
);
const TritiumLabel = () => (
  <text x={29} y={464} transform="rotate(-90 29 464)" textAnchor="middle" fontSize={24} fontFamily={FONT} fill="#000">
    Tritium [TU]
  </text>
);

export default function App() {
  return (
    <div style={{ position: "absolute", left: 0, top: 0, width: 1260, height: 958 }}>
      <ComposedChart width={1260} height={958} margin={{ top: 26, right: 4, bottom: 0, left: 0 }}>
        <XAxis
          type="number"
          dataKey="x"
          domain={[1960, 2012]}
          allowDataOverflow
          ticks={xTicks}
          interval={0}
          height={58.5}
          tickLine={false}
          tickSize={0}
          tickMargin={0}
          axisLine={{ stroke: "#000", strokeWidth: 4 }}
          tick={XTick}
        >
          <Label content={YearLabel} />
        </XAxis>
        <YAxis
          type="number"
          dataKey="y"
          domain={[0, 108.2]}
          allowDataOverflow
          ticks={[...lowerTicks, ...upperTicks.map(toAxis)]}
          interval={0}
          width={90}
          tickLine={false}
          tickSize={0}
          tickMargin={0}
          axisLine={false}
          tick={YTick}
        >
          <Label content={TritiumLabel} />
        </YAxis>

        <ReferenceLine segment={axisSeg(0, 80.1)} ifOverflow="visible" stroke="#000" strokeWidth={4.5} />
        <ReferenceLine segment={axisSeg(82, 108.2)} ifOverflow="visible" stroke="#000" strokeWidth={4.5} />
        <ReferenceLine segment={[{ x: 1959.29, y: 80.9 }, { x: 1960.75, y: 82.75 }]} ifOverflow="visible" stroke="#000" strokeWidth={4} strokeLinecap="round" />
        <ReferenceLine segment={[{ x: 1959.29, y: 79.5 }, { x: 1960.75, y: 81.3 }]} ifOverflow="visible" stroke="#000" strokeWidth={4} strokeLinecap="round" />

        <Line data={rows(kaitokeEarly)} dataKey="y" type="monotone" stroke="#000" strokeWidth={3.6} dot={false} isAnimationActive={false} />
        <Line data={rows(kaitokeLate)} dataKey="y" stroke="#000" strokeWidth={2.6} dot={false} isAnimationActive={false} />
        <Line data={rows(kaitokeTrend)} dataKey="y" stroke="#000" strokeWidth={2.4} dot={false} isAnimationActive={false} />

        <Scatter data={rows(perth)} shape={markerShape("plus", "#ff6a33", 12)} isAnimationActive={false} />
        <Scatter data={rows([...melbourne, ...melbourneBand])} shape={markerShape("square", "#ffff00", 11)} isAnimationActive={false} />
        <Scatter data={rows(darwin)} shape={markerShape("triangle", "#00ff00", 11)} isAnimationActive={false} />
        <Scatter data={rows(capeGrim)} shape={markerShape("cross", "#0000ff", 12)} isAnimationActive={false} />
        <Scatter data={rows(campbelltown)} shape={markerShape("cross", "#00ffff", 12)} isAnimationActive={false} />
        <Scatter data={rows([...brisbane, ...brisbaneBand])} shape={markerShape("diamond", "#ff00ff", 10.5)} isAnimationActive={false} />
        <Scatter data={rows(aliceSprings)} shape={markerShape("star", "#ff0000", 11.5)} isAnimationActive={false} />
        <Scatter data={rows(adelaide)} shape={markerShape("circle", "#9900cc", 11.5)} isAnimationActive={false} />

        <Line data={rows(decay5Curve)} dataKey="y" stroke="#0000ff" strokeWidth={4.5} strokeLinecap="round" dot={false} isAnimationActive={false} />
        <Line data={rows(decay5Straight)} dataKey="y" stroke="#0000ff" strokeWidth={4.5} strokeLinecap="round" dot={false} isAnimationActive={false} />
        <Line data={rows(decay25Curve)} dataKey="y" stroke="#0000ff" strokeWidth={4} strokeLinecap="round" strokeDasharray="12 21" dot={false} isAnimationActive={false} />
        <Line data={rows(decay25Straight)} dataKey="y" stroke="#0000ff" strokeWidth={4} strokeLinecap="round" strokeDasharray="12 21" dot={false} isAnimationActive={false} />
        <Line data={rows(decayPeakCurve)} dataKey="y" stroke="#0000ff" strokeWidth={4} strokeLinecap="round" strokeDasharray="44 53" dot={false} isAnimationActive={false} />
        <Line data={rows(decayPeakStraight)} dataKey="y" stroke="#0000ff" strokeWidth={4} strokeLinecap="round" strokeDasharray="44 53" dot={false} isAnimationActive={false} />

        <Legend
          layout="vertical"
          align="center"
          verticalAlign="middle"
          content={() => <ChartLegend />}
          wrapperStyle={{ position: "absolute", left: 775, top: 160, width: 340, height: 350 }}
        />
      </ComposedChart>
    </div>
  );
}
